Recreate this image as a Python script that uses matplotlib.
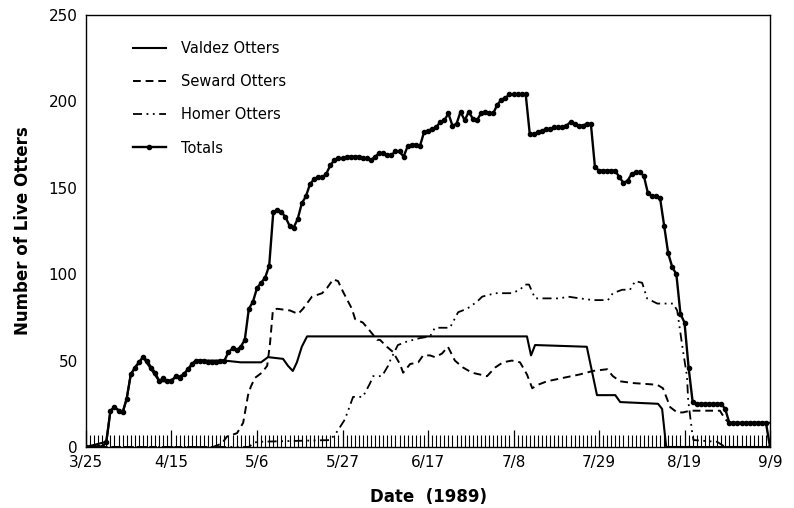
import matplotlib
matplotlib.use('Agg')
import matplotlib.pyplot as plt
from matplotlib.ticker import MultipleLocator, FixedLocator

# day 0 = 3/25/1989
tick_labels = ['3/25', '4/15', '5/6', '5/27', '6/17', '7/8', '7/29', '8/19', '9/9']

# daily totals, day 0..168
totals = [
    0, 0, 0, 0, 0, 3, 21, 23, 21, 20,
    28, 42, 46, 49, 52, 50, 46, 43, 38, 40,
    38, 38, 41, 40, 42, 45, 48, 50, 50, 50,
    49, 49, 49, 50, 50, 55, 57, 56, 58, 62,
    80, 84, 92, 95, 98, 105, 136, 137, 136, 133,
    128, 127, 132, 141, 145, 152, 155, 156, 156, 158,
    163, 166, 167, 167, 168, 168, 168, 168, 167, 167,
    166, 168, 170, 170, 169, 169, 171, 171, 168, 174,
    175, 175, 174, 182, 183, 184, 185, 188, 189, 193,
    186, 187, 194, 189, 194, 190, 189, 193, 194, 193,
    193, 198, 201, 202, 204, 204, 204, 204, 204, 181,
    181, 182, 183, 184, 184, 185, 185, 185, 186, 188,
    187, 186, 186, 187, 187, 162, 160, 160, 160, 160,
    160, 156, 153, 154, 158, 159, 159, 157, 147, 145,
    145, 144, 128, 112, 104, 100, 77, 72, 46, 26,
    25, 25, 25, 25, 25, 25, 25, 22, 14, 14,
    14, 14, 14, 14, 14, 14, 14, 14, 0]

valdez_day = [0, 5, 6, 7, 9, 10, 11, 14, 18, 20, 24, 27, 34,
              38, 43, 44.7, 48.4, 49.6, 50.8, 51.8, 53, 54.3,
              108.3, 109.3, 110.3, 123, 125.5, 130, 131.2, 140.5, 141.5, 142.5, 168]
valdez = [0, 3, 21, 23, 20, 28, 42, 52, 38, 38, 42, 50, 50,
          49, 49, 52, 51, 47, 44, 49, 58, 64,
          64, 53, 59, 58, 30, 30, 26, 25, 22, 0, 0]

seward_day = [0, 31.2, 33.4, 34.6, 37.1, 38.6, 39.8, 40.5, 41.5, 43.2, 44.5, 45.2, 45.9,
              46.9, 50.1, 52.1, 53.3, 55.5, 58, 59.2, 60.7, 61.9, 63.1, 65.3, 66.1,
              68, 69.8, 71.5, 72.2, 73.9, 75.4, 77.1, 77.9, 79.6, 81.6, 82.8, 84.5,
              85.7, 87.4, 88.9, 90.6, 92.6, 94.8, 98.5, 100.5, 102.4, 104.6, 106.6,
              108.3, 109.6, 111, 113.2, 117.2, 121.3, 124.5, 128, 129.4, 131.2, 134.4,
              140.3, 141.7, 143.5, 145.2, 146.6, 148.4, 155.7, 157, 158, 168]
seward = [0, 0, 2, 6, 8, 14, 30, 35, 40, 43, 47, 60, 79,
          80, 79, 77, 80, 87, 89, 92, 97, 96, 90, 80, 74,
          72, 67, 62, 62, 58, 55, 48, 43, 48, 49, 53, 53,
          52, 54, 58, 50, 46, 43, 41, 46, 49, 50, 49,
          42, 34, 36, 38, 40, 42, 44, 45, 41, 38, 37,
          36, 34, 23, 20, 20, 21, 21, 16, 14, 14]

homer_day = [0, 40, 41, 42, 60, 61.7, 63.6, 65.6, 68, 69.8, 70.5, 72.7, 74.2, 74.7,
             76.6, 78.8, 82, 84.5, 85.7, 89.4, 91.4, 93.6, 96, 97.3, 100.5, 104.6,
             106.6, 107.8, 108.8, 110.3, 113.2, 116.4, 118.4, 121.3, 124.5, 128.2,
             129.4, 131.7, 133.6, 134.9, 136.6, 137.8, 140.3, 144.2, 145.2, 146.6,
             147.6, 147.9, 148.9, 149.2, 155, 157, 168]
homer = [0, 0, 2, 3, 4, 9, 16, 29, 29, 37, 41, 41, 47, 50,
         59, 61, 63, 64, 69, 69, 78, 80, 84, 87, 89, 89,
         91, 94, 94, 86, 86, 86, 87, 86, 85, 85,
         89, 91, 91, 96, 95, 86, 83, 83, 79, 56,
         41, 27, 8, 4, 3, 0, 0]

fig = plt.figure(figsize=(7.94, 5.08), dpi=100)
ax = fig.add_axes([0.1083, 0.1201, 0.8615, 0.8504])

ax.plot(valdez_day, valdez, color='black', lw=1.5, label='Valdez Otters')
ax.plot(seward_day, seward, color='black', lw=1.4, dashes=(4, 2.5), label='Seward Otters')
ax.plot(homer_day, homer, color='black', lw=1.3, dashes=(5, 2.5, 1, 2.5, 1, 2.5),
        label='Homer Otters')
ax.plot(range(len(totals)), totals, color='black', lw=1.7, marker='o', ms=3.0,
        label='Totals')

ax.set_xlim(0, 168)
ax.set_ylim(0, 250)
ax.xaxis.set_major_locator(FixedLocator(range(0, 169, 21)))
ax.set_xticklabels(tick_labels)
ax.xaxis.set_minor_locator(MultipleLocator(1))
ax.yaxis.set_major_locator(MultipleLocator(50))
ax.tick_params(axis='x', which='major', direction='in', length=12, width=0.9,
               labelsize=11, pad=6)
ax.tick_params(axis='x', which='minor', direction='in', length=9, width=0.8)
ax.tick_params(axis='y', which='major', direction='in', length=0, labelsize=11, pad=6)
for s in ax.spines.values():
    s.set_linewidth(1.0)

ax.set_xlabel('Date  (1989)', fontsize=12, fontweight='bold', labelpad=13)
ax.set_ylabel('Number of Live Otters', fontsize=12, fontweight='bold', labelpad=12)

ax.legend(loc='upper left', bbox_to_anchor=(0.068, 0.94), frameon=False,
          fontsize=10.5, handlelength=2.3, handletextpad=1.0, labelspacing=1.25,
          borderpad=0, borderaxespad=0)

fig.savefig('out.png', dpi=100)
